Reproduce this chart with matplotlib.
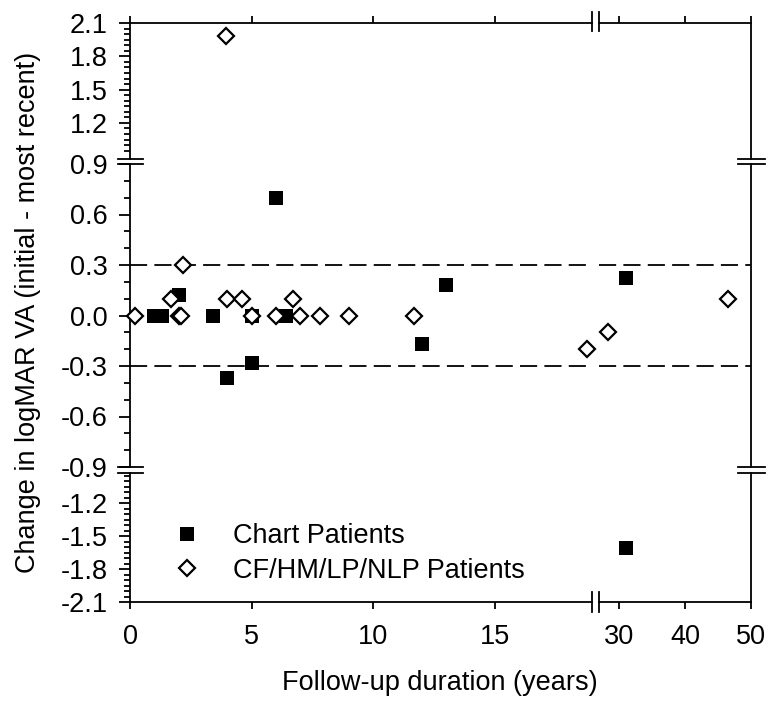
import numpy as np
import matplotlib
matplotlib.use("Agg")
import matplotlib.pyplot as plt
from matplotlib.lines import Line2D

plt.rcParams["font.family"] = ["Liberation Sans", "DejaVu Sans"]
fs = 19.5
plt.rcParams["font.size"] = fs

# data
chart_x = [1.0, 1.3, 2.0, 3.4, 4.0, 5.0, 5.0, 6.0, 6.4, 12.0, 13.0, 31.1, 31.1]
chart_y = [0.0, 0.0, 0.12, 0.0, -0.37, 0.0, -0.28, 0.70, 0.0, -0.17, 0.18, 0.22, -1.61]

cf_x = [0.2, 1.7, 2.0, 2.1, 2.2, 3.95, 4.0, 4.6, 5.0, 6.0, 6.7, 7.0, 7.8, 9.0, 11.7, 18.8, 28.3, 46.5]
cf_y = [0.0, 0.1, 0.0, 0.0, 0.3, 1.98, 0.1, 0.1, 0.0, 0.0, 0.1, 0.0, 0.0, 0.0, 0.0, -0.2, -0.1, 0.1]

threshold = 0.3

W, H = 770, 702
fig = plt.figure(figsize=(W / 100, H / 100), dpi=100)


def rect(x0, x1, y0, y1):
    return [x0 / W, 1 - y1 / H, (x1 - x0) / W, (y1 - y0) / H]


cols = [(130, 592), (599, 751)]
rows = [(23, 159), (164, 467), (473, 602)]
xlims = [(0, 19.0), (27, 50)]
ylims = [(0.875, 2.1), (-0.9, 0.9), (-2.1, -0.927)]
xmajor = [[0, 5, 10, 15], [30, 40, 50]]
ymajor = [[1.2, 1.5, 1.8, 2.1],
          [-0.9, -0.6, -0.3, 0.0, 0.3, 0.6, 0.9],
          [-2.1, -1.8, -1.5, -1.2]]
yminor = [np.arange(0.95, 2.08, 0.05),
          np.arange(-0.9, 0.91, 0.1),
          np.arange(-2.05, -0.93, 0.05)]

lw = 1.3
sq_style = dict(marker="s", color="black", ms=10.5, mew=0, linestyle="none")
dm_style = dict(marker="D", mfc="white", mec="black", ms=8.3, mew=1.6, linestyle="none")

axes = {}
for r, (y0, y1) in enumerate(rows):
    for c, (x0, x1) in enumerate(cols):
        ax = fig.add_axes(rect(x0, x1, y0, y1))
        axes[(r, c)] = ax
        ax.set_xlim(xlims[c])
        ax.set_ylim(ylims[r])
        for s in ax.spines.values():
            s.set_linewidth(lw)
        ax.spines["left"].set_visible(c == 0)
        ax.spines["right"].set_visible(c == 1)
        ax.spines["top"].set_visible(r == 0)
        ax.spines["bottom"].set_visible(r == 2)

        ax.set_xticks(xmajor[c])
        ax.tick_params(axis="x", which="major", direction="out", length=5, width=lw,
                       top=(r == 0), bottom=(r == 2), labelbottom=(r == 2), labeltop=False, pad=11)
        ax.set_yticks(ymajor[r])
        ax.set_yticks([v for v in yminor[r] if min(abs(v - m) for m in ymajor[r]) > 1e-6], minor=True)
        ax.tick_params(axis="y", which="major", direction="out", length=8, width=lw,
                       left=(c == 0), right=False, labelleft=(c == 0), pad=8)
        ax.tick_params(axis="y", which="minor", direction="out", length=4.5, width=lw,
                       left=(c == 0), right=False)
        ax.set_yticklabels([f"{v:.1f}" for v in ymajor[r]])

        # dashed limits of +/- 0.3
        if r == 1:
            for t in (threshold, -threshold):
                ax.axhline(t, color="black", lw=1.3, linestyle=(0, (9.5, 4)), zorder=1)

        # keep only points that belong to this panel
        xa, xb = xlims[c]
        ya, yb = ylims[r]
        cx = [x for x, y in zip(chart_x, chart_y) if xa <= x <= xb and ya <= y <= yb]
        cy = [y for x, y in zip(chart_x, chart_y) if xa <= x <= xb and ya <= y <= yb]
        dx = [x for x, y in zip(cf_x, cf_y) if xa <= x <= xb and ya <= y <= yb]
        dy = [y for x, y in zip(cf_x, cf_y) if xa <= x <= xb and ya <= y <= yb]
        ax.plot(cx, cy, clip_on=False, zorder=3, **sq_style)
        ax.plot(dx, dy, clip_on=False, zorder=4, **dm_style)


# break marks
def fig_line(xs, ys):
    fig.add_artist(Line2D([x / W for x in xs], [1 - y / H for y in ys],
                          color="black", lw=lw, transform=fig.transFigure))


for y in (159, 164, 467, 473):
    fig_line([118, 143], [y, y])
    fig_line([738, 765], [y, y])
for x in (592, 599):
    fig_line([x, x], [12, 31])
    fig_line([x, x], [592, 612])

# legend
sq = Line2D([], [], **sq_style)
dm = Line2D([], [], **dm_style)
fig.legend([sq, dm], ["Chart Patients", "CF/HM/LP/NLP Patients"],
           loc="upper left", bbox_to_anchor=(173.5 / W, 1 - 523 / H), frameon=False,
           handlelength=1.0, handletextpad=1.2, labelspacing=0.33, borderpad=0,
           borderaxespad=0, fontsize=fs)

fig.text(28 / W, 1 - 312 / H, "Change in logMAR VA (initial - most recent)",
         rotation=90, ha="center", va="center", fontsize=fs)
fig.text(440 / W, 1 - 683 / H, "Follow-up duration (years)", ha="center", va="center", fontsize=fs)

fig.savefig("out.png", dpi=100)
